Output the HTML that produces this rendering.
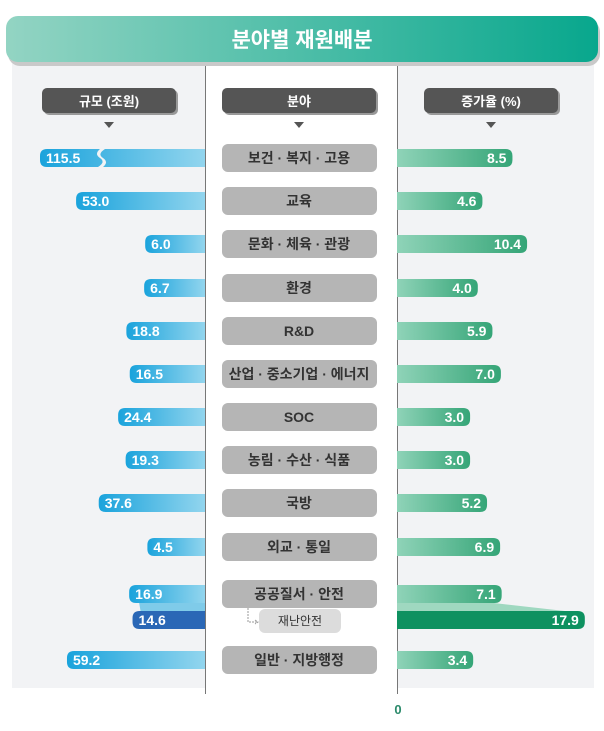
<!DOCTYPE html>
<html><head><meta charset="utf-8"><style>
body{margin:0;background:#fff;width:604px;height:731px;overflow:hidden;font-family:"Liberation Sans","Noto Sans CJK KR",sans-serif}
svg{display:block}
text{font-family:"Liberation Sans","Noto Sans CJK KR",sans-serif}
</style></head><body>
<svg id="chart" width="604" height="731" viewBox="0 0 604 731">
<defs>
<linearGradient id="gTitle" x1="0" x2="1"><stop offset="0" stop-color="#93d4c3"/><stop offset="1" stop-color="#08a78d"/></linearGradient>
<linearGradient id="gBlue" x1="0" x2="1"><stop offset="0" stop-color="#1aa3dc"/><stop offset="1" stop-color="#92d5ee"/></linearGradient>
<linearGradient id="gGreen" x1="0" x2="1"><stop offset="0" stop-color="#8fd3b8"/><stop offset="1" stop-color="#35a577"/></linearGradient>
</defs>
<rect x="12" y="62" width="582" height="626" fill="#f2f3f5"/>
<rect x="205" y="62" width="192" height="626" fill="#fff"/>
<line x1="205.5" y1="62" x2="205.5" y2="694" stroke="#777" stroke-width="1"/>
<line x1="397.5" y1="62" x2="397.5" y2="694" stroke="#777" stroke-width="1"/>
<rect x="8" y="20" width="592" height="46" rx="12" fill="#c9c9c9"/>
<rect x="6" y="16" width="592" height="46" rx="12" fill="url(#gTitle)"/>
<text x="302" y="47" text-anchor="middle" font-size="21" font-weight="bold" fill="#fff">분야별 재원배분</text>
<g>
<rect x="44" y="90" width="134" height="25" rx="5" fill="#999"/>
<rect x="42" y="88" width="134" height="25" rx="5" fill="#555"/>
<text x="109" y="106" text-anchor="middle" font-size="13" font-weight="bold" fill="#fff">규모 (조원)</text>
<rect x="224" y="90" width="154" height="25" rx="5" fill="#999"/>
<rect x="222" y="88" width="154" height="25" rx="5" fill="#555"/>
<text x="299" y="106" text-anchor="middle" font-size="13" font-weight="bold" fill="#fff">분야</text>
<rect x="426" y="90" width="134" height="25" rx="5" fill="#999"/>
<rect x="424" y="88" width="134" height="25" rx="5" fill="#555"/>
<text x="491" y="106" text-anchor="middle" font-size="13" font-weight="bold" fill="#fff">증가율 (%)</text>
<path d="M104,122 L114,122 L109,128Z" fill="#555"/>
<path d="M294,122 L304,122 L299,128Z" fill="#555"/>
<path d="M486,122 L496,122 L491,128Z" fill="#555"/>
</g>
<text x="398" y="714" text-anchor="middle" font-size="13" font-weight="bold" fill="#2a8a6a">0</text>
<g id="rows"></g>
</svg>
<script>
const categories=["보건 · 복지 · 고용","교육","문화 · 체육 · 관광","환경","R&D","산업 · 중소기업 · 에너지","SOC","농림 · 수산 · 식품","국방","외교 · 통일","공공질서 · 안전","재난안전","일반 · 지방행정"];
const sizeValues=[115.5,53.0,6.0,6.7,18.8,16.5,24.4,19.3,37.6,4.5,16.9,14.6,59.2];
const growthValues=[8.5,4.6,10.4,4.0,5.9,7.0,3.0,3.0,5.2,6.9,7.1,17.9,3.4];
const sizeLabels=["115.5","53.0","6.0","6.7","18.8","16.5","24.4","19.3","37.6","4.5","16.9","14.6","59.2"];
const growthLabels=["8.5","4.6","10.4","4.0","5.9","7.0","3.0","3.0","5.2","6.9","7.1","17.9","3.4"];
const rowY=[158,201,244,288,331,374,417,460,503,547,594,620,660];
const NS="http://www.w3.org/2000/svg";
const g=document.getElementById('rows');
function leftLen(v){return Math.min(165,51+1.47*v);}
function rightLen(v){return 50+7.7*v;}
function mk(t,a){const e=document.createElementNS(NS,t);for(const k in a)e.setAttribute(k,a[k]);return e;}
// connector shapes for sub-row
const lc=mk('path',{d:`M${205-leftLen(sizeValues[10])+10},${rowY[10]+9} L205,${rowY[10]+9} L205,${rowY[11]-9} L${205-leftLen(sizeValues[11])+8},${rowY[11]-9}Z`,fill:'#7fcbe9'});


g.appendChild(lc);
const rc=mk('path',{d:`M397,${rowY[10]+9} L${397+rightLen(growthValues[10])-8},${rowY[10]+9} L${397+rightLen(growthValues[11])-20},${rowY[11]-9} L397,${rowY[11]-9}Z`,fill:'#9fd8c0'});


g.appendChild(rc);
categories.forEach((c,i)=>{
  const y=rowY[i];const sub=(i===11);
  const h=18;
  const L=leftLen(sizeValues[i]);
  const lb=mk('path',{d:`M205,${y-h/2} L${205-L+7},${y-h/2} Q${205-L},${y-h/2} ${205-L},${y-h/2+7} L${205-L},${y+h/2-7} Q${205-L},${y+h/2} ${205-L+7},${y+h/2} L205,${y+h/2}Z`,fill:sub?'#2a67b6':'url(#gBlue)'});
  
  
  g.appendChild(lb);
  if(sizeValues[i]>100){
    const br=mk('path',{d:`M${205-L+60},${y-h/2} q-6,5 0,9 q6,4 -2,9 l5,0 q6,-5 0,-9 q-6,-4 2,-9Z`,fill:'#f2f3f5'});
    
    
    g.appendChild(br);
  }
  const lt=mk('text',{x:205-L+6,y:y+5,'font-size':14,'font-weight':'bold',fill:'#fff'});
  lt.textContent=sizeLabels[i];
  
  
  g.appendChild(lt);
  const R=rightLen(growthValues[i]);
  const rb=mk('path',{d:`M397,${y-h/2} L${397+R-7},${y-h/2} Q${397+R},${y-h/2} ${397+R},${y-h/2+7} L${397+R},${y+h/2-7} Q${397+R},${y+h/2} ${397+R-7},${y+h/2} L397,${y+h/2}Z`,fill:sub?'#0e9160':'url(#gGreen)'});
  
  
  g.appendChild(rb);
  const rt=mk('text',{x:397+R-6,y:y+5,'font-size':14,'font-weight':'bold',fill:'#fff','text-anchor':'end'});
  rt.textContent=growthLabels[i];
  
  
  g.appendChild(rt);
  if(sub){
    const ar=mk('path',{d:`M248,${y-12} L248,${y+2} L258,${y+2} M255,${y} L258,${y+2} L255,${y+4}`,stroke:'#999',fill:'none','stroke-dasharray':'2,1'});
    
    
    g.appendChild(ar);
    const bx=mk('rect',{x:259,y:y-11,width:82,height:24,rx:6,fill:'#dcdcdc'});
    
    
    g.appendChild(bx);
    const t=mk('text',{x:300,y:y+5,'font-size':12,fill:'#333','text-anchor':'middle'});
    t.textContent=c;
    
    
    g.appendChild(t);
  }else{
    const bx=mk('rect',{x:222,y:y-14,width:155,height:28,rx:6,fill:'#b5b5b5'});
    
    
    g.appendChild(bx);
    const t=mk('text',{x:299,y:y+5,'font-size':14,'font-weight':'bold',fill:'#333','text-anchor':'middle'});
    t.textContent=c;
    
    
    g.appendChild(t);
  }
});
</script>
</body></html>
